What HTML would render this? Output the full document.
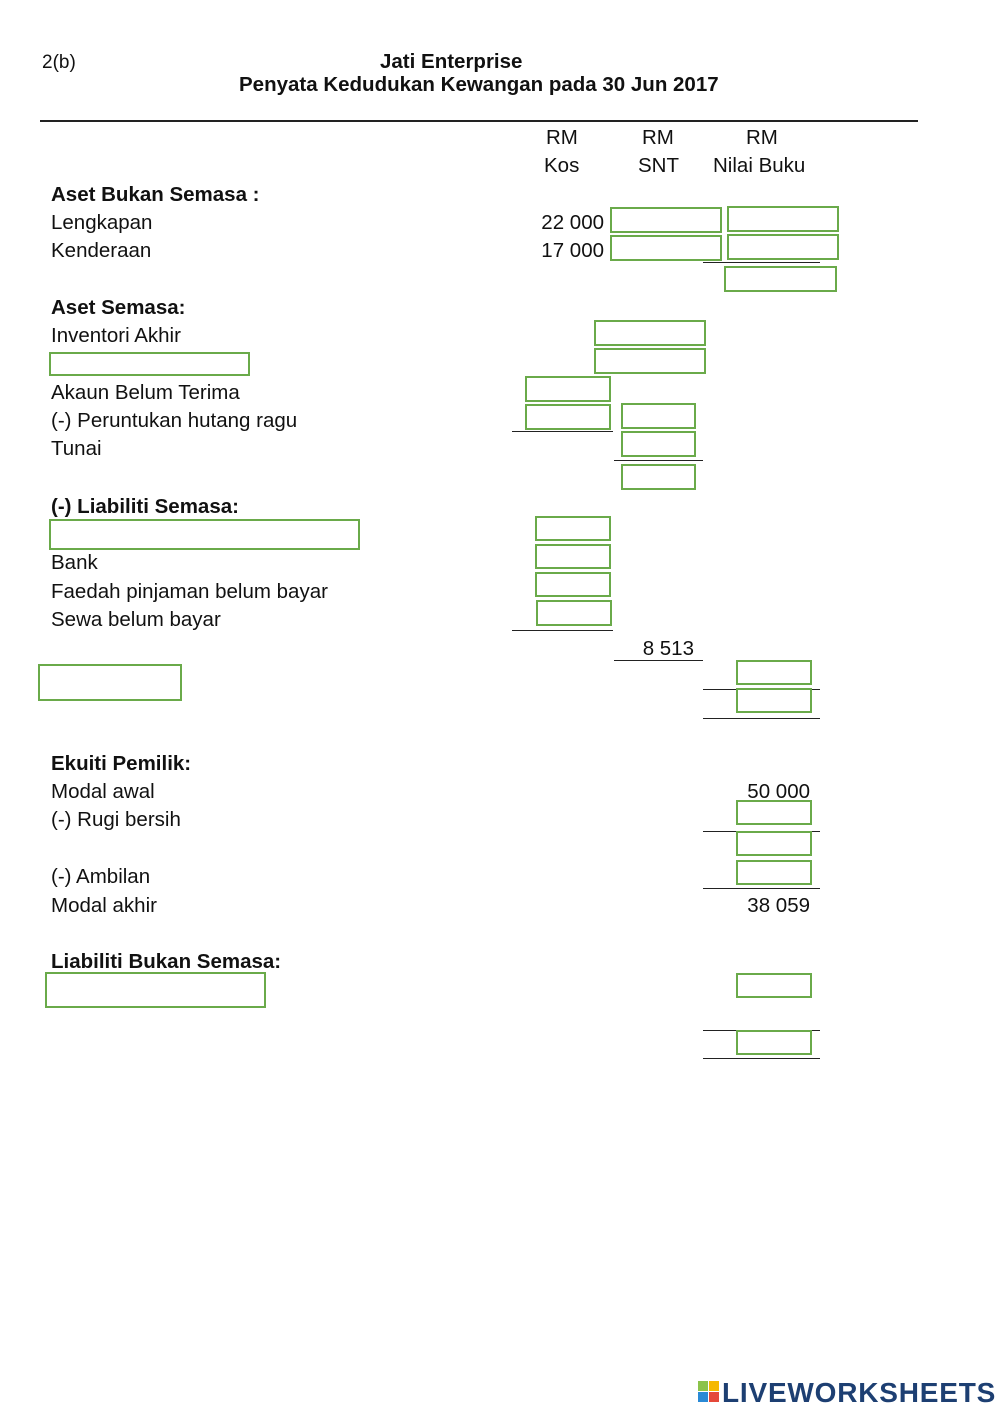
<!DOCTYPE html>
<html><head><meta charset="utf-8"><style>
body{margin:0;background:#fff;}
#p{position:relative;width:1000px;height:1413px;font-family:"Liberation Sans",Arial,sans-serif;color:#111;overflow:hidden}
.t{position:absolute;font-size:20.5px;line-height:22px;white-space:nowrap}
.b{font-weight:bold}
.rt{position:absolute;font-size:20.5px;line-height:22px;white-space:nowrap;text-align:right;width:200px}
.bx{position:absolute;border:2px solid #6aaa4a;box-sizing:border-box;background:#fff}
.l{position:absolute;height:0;border-top:1.5px solid #222}
</style></head><body><div id="p">
<div class="t" style="left:42px;top:52px;font-size:19px">2(b)</div>
<div class="t b" style="left:380px;top:51px;font-size:20.5px">Jati Enterprise</div>
<div class="t b" style="left:239px;top:74px;font-size:20.5px">Penyata Kedudukan Kewangan pada 30 Jun 2017</div>
<div class="l" style="left:40px;top:120px;width:878px;border-top-width:2px"></div>

<div class="t" style="left:546px;top:127px">RM</div>
<div class="t" style="left:642px;top:127px">RM</div>
<div class="t" style="left:746px;top:127px">RM</div>
<div class="t" style="left:544px;top:155px">Kos</div>
<div class="t" style="left:638px;top:155px">SNT</div>
<div class="t" style="left:713px;top:155px">Nilai Buku</div>

<div class="t b" style="left:51px;top:184px">Aset Bukan Semasa :</div>
<div class="t" style="left:51px;top:212px">Lengkapan</div>
<div class="t" style="left:51px;top:240px">Kenderaan</div>
<div class="rt" style="left:404px;top:212px">22 000</div>
<div class="rt" style="left:404px;top:240px">17 000</div>

<div class="t b" style="left:51px;top:297px">Aset Semasa:</div>
<div class="t" style="left:51px;top:325px">Inventori Akhir</div>
<div class="t" style="left:51px;top:382px">Akaun Belum Terima</div>
<div class="t" style="left:51px;top:410px">(-) Peruntukan hutang ragu</div>
<div class="t" style="left:51px;top:438px">Tunai</div>

<div class="t b" style="left:51px;top:496px">(-) Liabiliti Semasa:</div>
<div class="t" style="left:51px;top:552px">Bank</div>
<div class="t" style="left:51px;top:581px">Faedah pinjaman belum bayar</div>
<div class="t" style="left:51px;top:609px">Sewa belum bayar</div>
<div class="rt" style="left:494px;top:638px">8 513</div>

<div class="t b" style="left:51px;top:753px">Ekuiti Pemilik:</div>
<div class="t" style="left:51px;top:781px">Modal awal</div>
<div class="rt" style="left:610px;top:781px">50 000</div>
<div class="t" style="left:51px;top:809px">(-) Rugi bersih</div>
<div class="t" style="left:51px;top:866px">(-) Ambilan</div>
<div class="t" style="left:51px;top:895px">Modal akhir</div>
<div class="rt" style="left:610px;top:895px">38 059</div>
<div class="t b" style="left:51px;top:951px">Liabiliti Bukan Semasa:</div>

<div class="l" style="left:703px;top:262px;width:117px"></div>
<div class="l" style="left:512px;top:431px;width:101px"></div>
<div class="l" style="left:614px;top:460px;width:89px"></div>
<div class="l" style="left:512px;top:630px;width:101px"></div>
<div class="l" style="left:614px;top:660px;width:89px"></div>
<div class="l" style="left:703px;top:689px;width:117px"></div>
<div class="l" style="left:703px;top:718px;width:117px"></div>
<div class="l" style="left:703px;top:831px;width:117px"></div>
<div class="l" style="left:703px;top:888px;width:117px"></div>
<div class="l" style="left:703px;top:1030px;width:117px"></div>
<div class="l" style="left:703px;top:1058px;width:117px"></div>

<div class="bx" style="left:610px;top:207px;width:112px;height:26px"></div>
<div class="bx" style="left:727px;top:206px;width:112px;height:26px"></div>
<div class="bx" style="left:610px;top:235px;width:112px;height:26px"></div>
<div class="bx" style="left:727px;top:234px;width:112px;height:26px"></div>
<div class="bx" style="left:724px;top:266px;width:113px;height:26px"></div>
<div class="bx" style="left:594px;top:320px;width:112px;height:26px"></div>
<div class="bx" style="left:594px;top:348px;width:112px;height:26px"></div>
<div class="bx" style="left:49px;top:352px;width:201px;height:24px"></div>
<div class="bx" style="left:525px;top:376px;width:86px;height:26px"></div>
<div class="bx" style="left:525px;top:404px;width:86px;height:26px"></div>
<div class="bx" style="left:621px;top:403px;width:75px;height:26px"></div>
<div class="bx" style="left:621px;top:431px;width:75px;height:26px"></div>
<div class="bx" style="left:621px;top:464px;width:75px;height:26px"></div>
<div class="bx" style="left:49px;top:519px;width:311px;height:31px"></div>
<div class="bx" style="left:535px;top:516px;width:76px;height:25px"></div>
<div class="bx" style="left:535px;top:544px;width:76px;height:25px"></div>
<div class="bx" style="left:535px;top:572px;width:76px;height:25px"></div>
<div class="bx" style="left:536px;top:600px;width:76px;height:26px"></div>
<div class="bx" style="left:38px;top:664px;width:144px;height:37px"></div>
<div class="bx" style="left:736px;top:660px;width:76px;height:25px"></div>
<div class="bx" style="left:736px;top:688px;width:76px;height:25px"></div>
<div class="bx" style="left:736px;top:800px;width:76px;height:25px"></div>
<div class="bx" style="left:736px;top:831px;width:76px;height:25px"></div>
<div class="bx" style="left:736px;top:860px;width:76px;height:25px"></div>
<div class="bx" style="left:45px;top:972px;width:221px;height:36px"></div>
<div class="bx" style="left:736px;top:973px;width:76px;height:25px"></div>
<div class="bx" style="left:736px;top:1030px;width:76px;height:25px"></div>

<div style="position:absolute;left:698px;top:1381px;width:22px;height:22px">
<div style="position:absolute;left:0;top:0;width:10px;height:10px;background:#8bc34a"></div>
<div style="position:absolute;left:11px;top:0;width:10px;height:10px;background:#f5b800"></div>
<div style="position:absolute;left:0;top:11px;width:10px;height:10px;background:#2a8ad6"></div>
<div style="position:absolute;left:11px;top:11px;width:10px;height:10px;background:#e5483a"></div>
</div>
<div class="t b" style="left:722px;top:1378px;font-size:28px;line-height:30px;color:#1d3f72;letter-spacing:0.8px">LIVEWORKSHEETS</div>
</div></body></html>
